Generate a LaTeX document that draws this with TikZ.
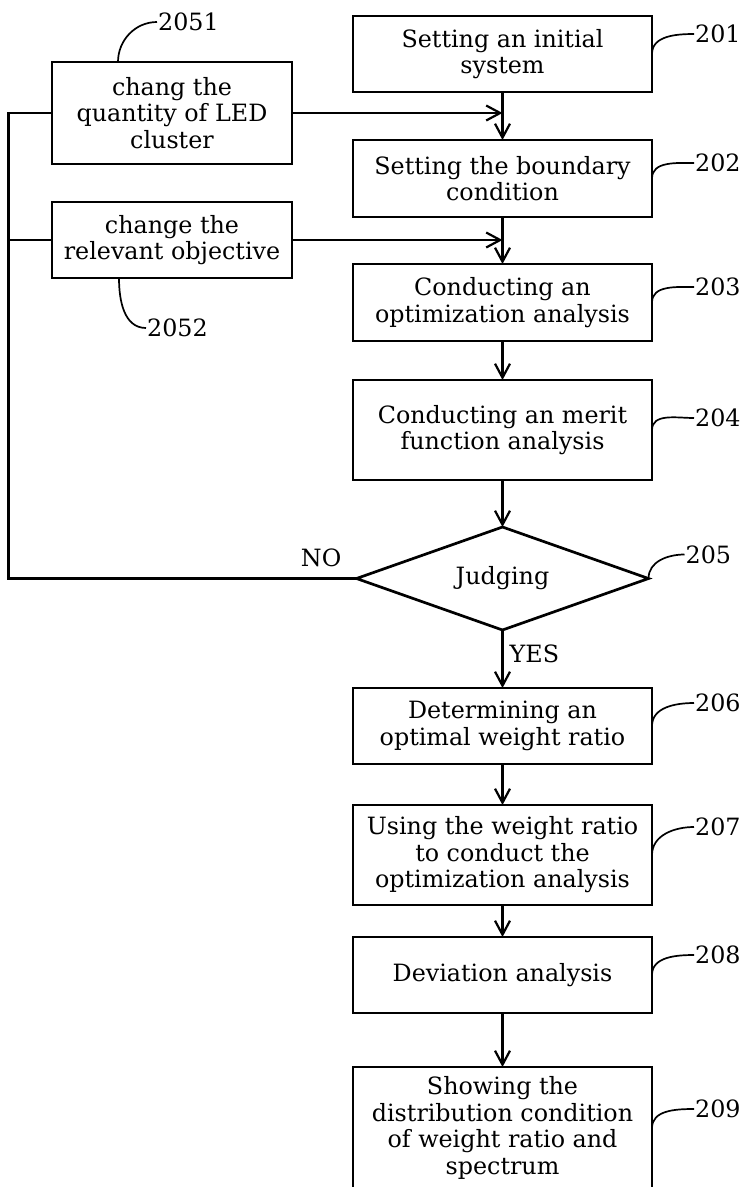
\documentclass[tikz,border=0pt]{standalone}
\usepackage{fontspec}
\setmainfont{DejaVu Serif}
\usetikzlibrary{arrows.meta,positioning,shapes.geometric}

\begin{document}
\begin{tikzpicture}[
  x=1pt,y=1pt,
  node distance=48pt,
  every node/.style={font=\fontsize{23.8}{26.5}\selectfont},
  box/.style={draw,line width=2.7pt,outer sep=0pt,minimum width=299pt,minimum height=76pt,inner sep=4pt,align=center},
  sidebox/.style={box,minimum width=240pt},
  judge/.style={draw,diamond,aspect=2.8,line width=2.7pt,outer sep=0pt,minimum width=292pt,minimum height=103pt,inner sep=0pt},
  lbl/.style={inner sep=1pt},
  ar/.style={-{Straight Barb[length=14pt,width=15pt]},line width=2.2pt},
  ln/.style={line width=2.2pt},
  lead/.style={line width=1.7pt}
]
\useasboundingbox (0,0) rectangle (749,-1187);
% main column
\node[box] (b201) at (502.5,-54) {Setting an initial\\system};
\node[box,below=48pt of b201,minimum height=77pt] (b202) {Setting the boundary\\condition};
\node[box,below=47pt of b202,minimum height=77pt] (b203) {Conducting an\\optimization analysis};
\node[box,below=39pt of b203,minimum height=100pt] (b204) {Conducting an merit\\function analysis};
\node[judge,below=47pt of b204] (dia) {Judging};
\node[box,below=58pt of dia] (b206) {Determining an\\optimal weight ratio};
\node[box,below=41pt of b206,minimum height=100pt] (b207) {Using the weight ratio\\to conduct the\\optimization analysis};
\node[box,below=32pt of b207] (b208) {Deviation analysis};
\node[box,below=54pt of b208,minimum height=122pt] (b209) {Showing the\\distribution condition\\of weight ratio and\\spectrum};
% side boxes
\node[sidebox,left=61pt of b201,yshift=-59pt,minimum height=102pt] (b2051) {chang the\\quantity of LED\\cluster};
\node[sidebox,below=38pt of b2051] (b2052) {change the\\relevant objective};

\draw[ar] (b201) -- (b202);
\draw[ar] (b202) -- (b203);
\draw[ar] (b203) -- (b204);
\draw[ar] (b204) -- (dia);
\draw[ar] (dia) -- (b206);
\draw[ar] (b206) -- (b207);
\draw[ar] (b207) -- (b208);
\draw[ar] (b208) -- (b209);
\draw[ar] (b2051.east) -- (b2051.east -| b201.south);
\draw[ar] (b2052.east) -- (b2052.east -| b202.south);

% loop back
\draw[ln] (dia.west) -- ++(-348,0) coordinate (fb) |- (b2051.west);
\draw[ln] (b2052.west) -- (b2052.west -| fb);
\node[lbl,above left=10pt and 14pt of dia.west] (no) {NO};
\node[lbl,below right=14pt and 6pt of dia.south] (yes) {YES};

% reference numbers
\node[lbl,right=42pt of b201.east,yshift=20pt] (l201) {201};
\node[lbl,right=42pt of b202.east,yshift=15.5pt] (l202) {202};
\node[lbl,right=42pt of b203.east,yshift=15.5pt] (l203) {203};
\node[lbl,right=42pt of b204.east,yshift=12pt] (l204) {204};
\node[lbl,right=36pt of dia.east,yshift=24pt] (l205) {205};
\node[lbl,right=42pt of b206.east,yshift=23pt] (l206) {206};
\node[lbl,right=42pt of b207.east,yshift=28pt] (l207) {207};
\node[lbl,right=42pt of b208.east,yshift=20pt] (l208) {208};
\node[lbl,right=42pt of b209.east,yshift=19pt] (l209) {209};
\node[lbl,anchor=west] (l2051) at ([xshift=105pt,yshift=40pt]b2051.north west) {2051};
\node[lbl,anchor=west] (l2052) at ([xshift=94pt,yshift=-50pt]b2052.south west) {2052};

\draw[lead] (b201.east) to[out=90,in=180] (l201.west);
\draw[lead] (b202.east) to[out=90,in=180] (l202.west);
\draw[lead] (b203.east) to[out=90,in=180] (l203.west);
\draw[lead] (b204.east) to[out=90,in=180] (l204.west);
\draw[lead] (dia.east) to[out=90,in=180] (l205.west);
\draw[lead] (b206.east) to[out=90,in=180] (l206.west);
\draw[lead] (b207.east) to[out=90,in=180] (l207.west);
\draw[lead] (b208.east) to[out=90,in=180] (l208.west);
\draw[lead] (b209.east) to[out=90,in=180] (l209.west);
\draw[lead] ([xshift=66pt]b2051.north west) to[out=90,in=180] (l2051.west);
\draw[lead] ([xshift=67pt]b2052.south west) to[out=-90,in=180] (l2052.west);
\end{tikzpicture}
\end{document}
